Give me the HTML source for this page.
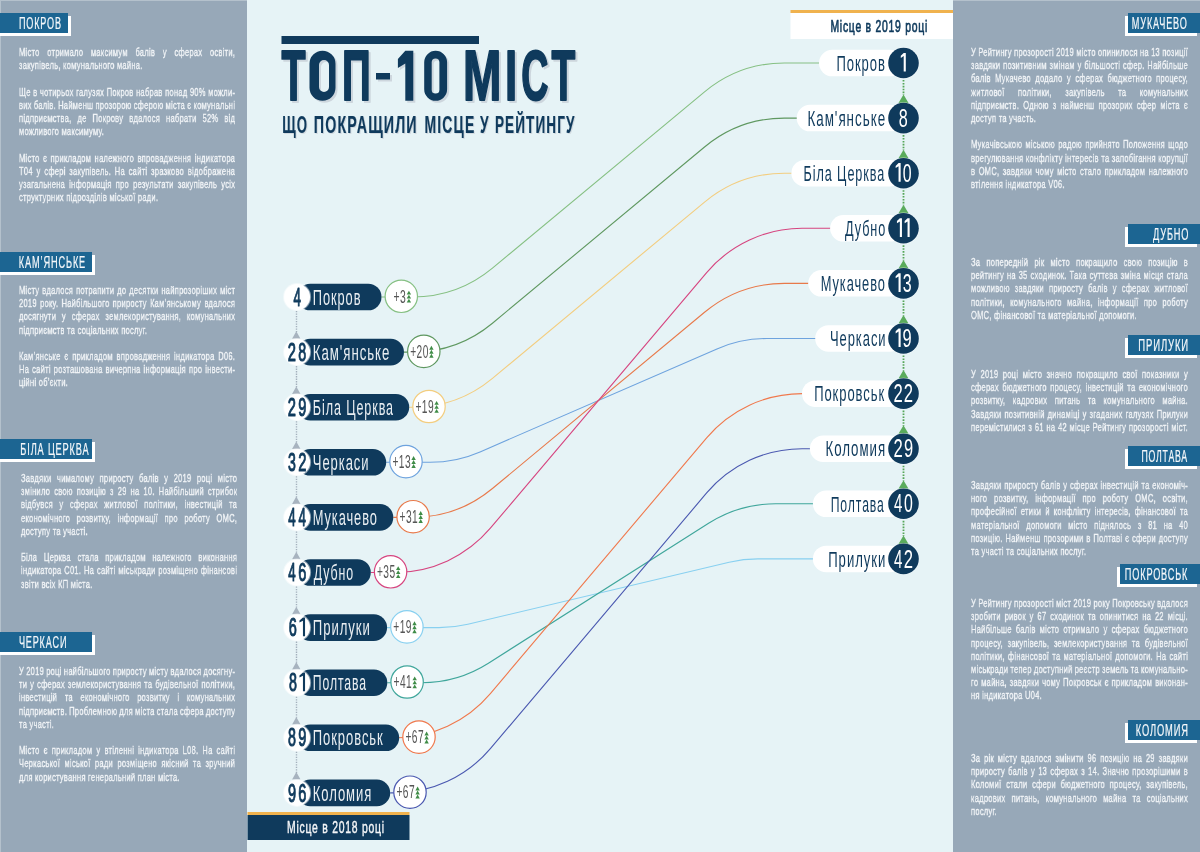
<!DOCTYPE html><html><head><meta charset="utf-8"><style>
*{margin:0;padding:0;box-sizing:border-box}
html,body{width:1200px;height:852px;overflow:hidden;background:#e6f3f6;font-family:"Liberation Sans", sans-serif}
.side{position:absolute;top:0;height:852px;background:#97a8b8}
.hbox{position:absolute;height:20px;background:#1c6592}
.hsh{position:absolute;height:20px;background:#ffffff}
.htxt{position:absolute;color:#f2f6fa;font-size:16.5px;line-height:16.5px;white-space:nowrap;transform-origin:0 0}
.body{position:absolute;color:#f1f4f7;font-size:11.6px;line-height:13.2px;font-weight:normal;transform:scaleX(0.645);transform-origin:0 0}
.ln{white-space:nowrap;height:13.2px}
.abs{position:absolute;white-space:nowrap;transform-origin:0 0}
</style></head><body>
<div class="side" style="left:0;width:247px"></div>
<div class="side" style="left:953px;width:247px"></div>
<div style="position:absolute;left:0;top:0;width:247px;height:1px;background:#b4c1cc"></div>
<div style="position:absolute;left:953px;top:0;width:247px;height:1px;background:#b4c1cc"></div>
<div style="position:absolute;left:0;top:0;width:1px;height:852px;background:#b4c1cc"></div>
<div class="hsh" style="left:0px;top:15.9px;width:71px"></div>
<div class="hbox" style="left:0;top:12.9px;width:68px"></div>
<div class="body" style="left:19.30px;top:45.28px;width:335.19px;font-weight:normal;letter-spacing:0.45px;transform:scaleX(0.645);will-change:transform;-webkit-text-stroke:0.4px #f1f4f7">
<div class="ln" style="word-spacing:8.184px">Місто отримало максимум балів у сферах освіти,</div>
<div class="ln">закупівель, комунального майна.</div>
<div class="ln">&nbsp;</div>
<div class="ln" style="word-spacing:0.176px">Ще в чотирьох галузях Покров набрав понад 90% можли-</div>
<div class="ln" style="word-spacing:-0.330px">вих балів. Найменш прозорою сферою міста є комунальні</div>
<div class="ln" style="word-spacing:5.635px">підприємства, де Покрову вдалося набрати 52% від</div>
<div class="ln">можливого максимуму.</div>
<div class="ln">&nbsp;</div>
<div class="ln" style="word-spacing:1.736px">Місто є прикладом належного впровадження індикатора</div>
<div class="ln" style="word-spacing:2.141px">Т04 у сфері закупівель. На сайті зразково відображена</div>
<div class="ln" style="word-spacing:2.695px">узагальнена інформація про результати закупівель усіх</div>
<div class="ln">структурних підрозділів міської ради.</div>
</div>
<div class="hsh" style="left:0px;top:254.5px;width:95px"></div>
<div class="hbox" style="left:0;top:251.5px;width:92px"></div>
<div class="body" style="left:19.30px;top:283.48px;width:335.19px;font-weight:normal;letter-spacing:0.45px;transform:scaleX(0.645);will-change:transform;-webkit-text-stroke:0.4px #f1f4f7">
<div class="ln" style="word-spacing:0.876px">Місту вдалося потрапити до десятки найпрозоріших міст</div>
<div class="ln" style="word-spacing:1.369px">2019 року. Найбільшого приросту Кам’янському вдалося</div>
<div class="ln" style="word-spacing:5.349px">досягнути у сферах землекористування, комунальних</div>
<div class="ln">підприємств та соціальних послуг.</div>
<div class="ln">&nbsp;</div>
<div class="ln" style="word-spacing:2.178px">Кам’янське є прикладом впровадження індикатора D06.</div>
<div class="ln" style="word-spacing:0.951px">На сайті розташована вичерпна інформація про інвести-</div>
<div class="ln">ційні об’єкти.</div>
</div>
<div class="hsh" style="left:0px;top:442px;width:94.5px"></div>
<div class="hbox" style="left:0;top:439px;width:91.5px"></div>
<div class="body" style="left:20.80px;top:470.98px;width:335.19px;font-weight:normal;letter-spacing:0.45px;transform:scaleX(0.645);will-change:transform;-webkit-text-stroke:0.4px #f1f4f7">
<div class="ln" style="word-spacing:4.746px">Завдяки чималому приросту балів у 2019 році місто</div>
<div class="ln" style="word-spacing:2.523px">змінило свою позицію з 29 на 10. Найбільший стрибок</div>
<div class="ln" style="word-spacing:6.376px">відбувся у сферах житлової політики, інвестицій та</div>
<div class="ln" style="word-spacing:6.493px">економічного розвитку, інформації про роботу ОМС,</div>
<div class="ln">доступу та участі.</div>
<div class="ln">&nbsp;</div>
<div class="ln" style="word-spacing:6.580px">Біла Церква стала прикладом належного виконання</div>
<div class="ln" style="word-spacing:0.664px">індикатора С01. На сайті міськради розміщено фінансові</div>
<div class="ln">звіти всіх КП міста.</div>
</div>
<div class="hsh" style="left:0px;top:634.8px;width:94.5px"></div>
<div class="hbox" style="left:0;top:631.8px;width:91.5px"></div>
<div class="body" style="left:19.30px;top:663.98px;width:335.19px;font-weight:normal;letter-spacing:0.45px;transform:scaleX(0.645);will-change:transform;-webkit-text-stroke:0.4px #f1f4f7">
<div class="ln" style="word-spacing:-0.263px">У 2019 році найбільшого приросту місту вдалося досягну-</div>
<div class="ln" style="word-spacing:0.903px">ти у сферах землекористування та будівельної політики,</div>
<div class="ln" style="word-spacing:8.078px">інвестицій та економічного розвитку і комунальних</div>
<div class="ln" style="word-spacing:-0.445px">підприємств. Проблемною для міста стала сфера доступу</div>
<div class="ln">та участі.</div>
<div class="ln">&nbsp;</div>
<div class="ln" style="word-spacing:2.596px">Місто є прикладом у втіленні індикатора L08. На сайті</div>
<div class="ln" style="word-spacing:3.184px">Черкаської міської ради розміщено якісний та зручний</div>
<div class="ln">для користування генеральний план міста.</div>
</div>
<div class="hsh" style="left:1125px;top:16px;width:72px"></div>
<div class="hbox" style="left:1128px;top:13px;width:72px"></div>
<div class="body" style="left:971.00px;top:45.48px;width:336.43px;font-weight:normal;letter-spacing:0.45px;transform:scaleX(0.645);will-change:transform;-webkit-text-stroke:0.4px #f1f4f7">
<div class="ln" style="word-spacing:-0.169px">У Рейтингу прозорості 2019 місто опинилося на 13 позиції</div>
<div class="ln" style="word-spacing:0.540px">завдяки позитивним змінам у більшості сфер. Найбільше</div>
<div class="ln" style="word-spacing:3.066px">балів Мукачево додало у сферах бюджетного процесу,</div>
<div class="ln" style="word-spacing:17.258px">житлової політики, закупівель та комунальних</div>
<div class="ln" style="word-spacing:2.691px">підприємств. Одною з найменш прозорих сфер міста є</div>
<div class="ln">доступ та участь.</div>
<div class="ln">&nbsp;</div>
<div class="ln" style="word-spacing:1.307px">Мукачівською міською радою прийнято Положення щодо</div>
<div class="ln" style="word-spacing:0.163px">врегулювання конфлікту інтересів та запобігання корупції</div>
<div class="ln" style="word-spacing:1.605px">в ОМС, завдяки чому місто стало прикладом належного</div>
<div class="ln">втілення індикатора V06.</div>
</div>
<div class="hsh" style="left:1125px;top:226.5px;width:72px"></div>
<div class="hbox" style="left:1128px;top:223.5px;width:72px"></div>
<div class="body" style="left:971.00px;top:255.48px;width:336.43px;font-weight:normal;letter-spacing:0.45px;transform:scaleX(0.645);will-change:transform;-webkit-text-stroke:0.4px #f1f4f7">
<div class="ln" style="word-spacing:5.854px">За попередній рік місто покращило свою позицію в</div>
<div class="ln" style="word-spacing:0.817px">рейтингу на 35 сходинок. Така суттєва зміна місця стала</div>
<div class="ln" style="word-spacing:4.027px">можливою завдяки приросту балів у сферах житлової</div>
<div class="ln" style="word-spacing:4.632px">політики, комунального майна, інформації про роботу</div>
<div class="ln">ОМС, фінансової та матеріальної допомоги.</div>
</div>
<div class="hsh" style="left:1125px;top:338px;width:72px"></div>
<div class="hbox" style="left:1128px;top:335px;width:72px"></div>
<div class="body" style="left:971.00px;top:367.48px;width:336.43px;font-weight:normal;letter-spacing:0.45px;transform:scaleX(0.645);will-change:transform;-webkit-text-stroke:0.4px #f1f4f7">
<div class="ln" style="word-spacing:3.277px">У 2019 році місто значно покращило свої показники у</div>
<div class="ln" style="word-spacing:1.761px">сферах бюджетного процесу, інвестицій та економічного</div>
<div class="ln" style="word-spacing:7.976px">розвитку, кадрових питань та комунального майна.</div>
<div class="ln" style="word-spacing:0.988px">Завдяки позитивній динаміці у згаданих галузях Прилуки</div>
<div class="ln" style="word-spacing:0.492px">перемістилися з 61 на 42 місце Рейтингу прозорості міст.</div>
</div>
<div class="hsh" style="left:1125px;top:449.2px;width:72px"></div>
<div class="hbox" style="left:1128px;top:446.2px;width:72px"></div>
<div class="body" style="left:971.00px;top:477.98px;width:336.43px;font-weight:normal;letter-spacing:0.45px;transform:scaleX(0.645);will-change:transform;-webkit-text-stroke:0.4px #f1f4f7">
<div class="ln" style="word-spacing:0.512px">Завдяки приросту балів у сферах інвестицій та економіч-</div>
<div class="ln" style="word-spacing:7.006px">ного розвитку, інформації про роботу ОМС, освіти,</div>
<div class="ln" style="word-spacing:2.569px">професійної етики й конфлікту інтересів, фінансової та</div>
<div class="ln" style="word-spacing:6.525px">матеріальної допомоги місто піднялось з 81 на 40</div>
<div class="ln" style="word-spacing:0.677px">позицію. Найменш прозорими в Полтаві є сфери доступу</div>
<div class="ln">та участі та соціальних послуг.</div>
</div>
<div class="hsh" style="left:1117px;top:567.2px;width:80px"></div>
<div class="hbox" style="left:1120px;top:564.2px;width:80px"></div>
<div class="body" style="left:971.00px;top:595.98px;width:336.43px;font-weight:normal;letter-spacing:0.45px;transform:scaleX(0.645);will-change:transform;-webkit-text-stroke:0.4px #f1f4f7">
<div class="ln" style="word-spacing:-0.209px">У Рейтингу прозорості міст 2019 року Покровську вдалося</div>
<div class="ln" style="word-spacing:2.266px">зробити ривок у 67 сходинок та опинитися на 22 місці.</div>
<div class="ln" style="word-spacing:2.757px">Найбільше балів місто отримало у сферах бюджетного</div>
<div class="ln" style="word-spacing:3.615px">процесу, закупівель, землекористування та будівельної</div>
<div class="ln" style="word-spacing:1.179px">політики, фінансової та матеріальної допомоги. На сайті</div>
<div class="ln" style="word-spacing:-0.308px">міськради тепер доступний реєстр земель та комунально-</div>
<div class="ln" style="word-spacing:0.868px">го майна, завдяки чому Покровськ є прикладом виконан-</div>
<div class="ln">ня індикатора U04.</div>
</div>
<div class="hsh" style="left:1125px;top:723px;width:72px"></div>
<div class="hbox" style="left:1128px;top:720px;width:72px"></div>
<div class="body" style="left:971.00px;top:750.98px;width:336.43px;font-weight:normal;letter-spacing:0.45px;transform:scaleX(0.645);will-change:transform;-webkit-text-stroke:0.4px #f1f4f7">
<div class="ln" style="word-spacing:2.217px">За рік місту вдалося змінити 96 позицію на 29 завдяки</div>
<div class="ln" style="word-spacing:1.218px">приросту балів у 13 сферах з 14. Значно прозорішими в</div>
<div class="ln" style="word-spacing:3.656px">Коломиї стали сфери бюджетного процесу, закупівель,</div>
<div class="ln" style="word-spacing:5.799px">кадрових питань, комунального майна та соціальних</div>
<div class="ln">послуг.</div>
</div>
<svg style="position:absolute;left:0;top:0;will-change:transform" width="1200" height="852" font-family="Liberation Sans, sans-serif"><text transform="translate(18.96,28.90) scale(0.5508,1)" font-size="16.5" letter-spacing="1.5" fill="#f4f7fa" stroke="#f4f7fa" stroke-width="0.2" vector-effect="non-scaling-stroke" stroke-linejoin="round" >ПОКРОВ</text>
<text transform="translate(18.84,267.50) scale(0.5598,1)" font-size="16.5" letter-spacing="1.5" fill="#f4f7fa" stroke="#f4f7fa" stroke-width="0.2" vector-effect="non-scaling-stroke" stroke-linejoin="round" >КАМ’ЯНСЬКЕ</text>
<text transform="translate(20.34,455.00) scale(0.5590,1)" font-size="16.5" letter-spacing="1.5" fill="#f4f7fa" stroke="#f4f7fa" stroke-width="0.2" vector-effect="non-scaling-stroke" stroke-linejoin="round" >БІЛА ЦЕРКВА</text>
<text transform="translate(18.89,647.80) scale(0.5528,1)" font-size="16.5" letter-spacing="1.5" fill="#f4f7fa" stroke="#f4f7fa" stroke-width="0.2" vector-effect="non-scaling-stroke" stroke-linejoin="round" >ЧЕРКАСИ</text>
<text transform="translate(1131.85,29.00) scale(0.5533,1)" font-size="16.5" letter-spacing="1.5" fill="#f4f7fa" stroke="#f4f7fa" stroke-width="0.2" vector-effect="non-scaling-stroke" stroke-linejoin="round" >МУКАЧЕВО</text>
<text transform="translate(1153.03,239.50) scale(0.5584,1)" font-size="16.5" letter-spacing="1.5" fill="#f4f7fa" stroke="#f4f7fa" stroke-width="0.2" vector-effect="non-scaling-stroke" stroke-linejoin="round" >ДУБНО</text>
<text transform="translate(1138.33,351.00) scale(0.5763,1)" font-size="16.5" letter-spacing="1.5" fill="#f4f7fa" stroke="#f4f7fa" stroke-width="0.2" vector-effect="non-scaling-stroke" stroke-linejoin="round" >ПРИЛУКИ</text>
<text transform="translate(1141.39,462.20) scale(0.5310,1)" font-size="16.5" letter-spacing="1.5" fill="#f4f7fa" stroke="#f4f7fa" stroke-width="0.2" vector-effect="non-scaling-stroke" stroke-linejoin="round" >ПОЛТАВА</text>
<text transform="translate(1124.86,580.20) scale(0.5559,1)" font-size="16.5" letter-spacing="1.5" fill="#f4f7fa" stroke="#f4f7fa" stroke-width="0.2" vector-effect="non-scaling-stroke" stroke-linejoin="round" >ПОКРОВСЬК</text>
<text transform="translate(1135.84,736.00) scale(0.5649,1)" font-size="16.5" letter-spacing="1.5" fill="#f4f7fa" stroke="#f4f7fa" stroke-width="0.2" vector-effect="non-scaling-stroke" stroke-linejoin="round" >КОЛОМИЯ</text>
<rect x="281.5" y="36" width="197.5" height="8" fill="#0f3a5c"/>
<text transform="translate(283.56,102.30) scale(0.5645,1)" font-size="69.792" font-weight="bold" fill="#cdd6dd" stroke="#cdd6dd" stroke-width="1.6" vector-effect="non-scaling-stroke" stroke-linejoin="round" >Т</text>
<text transform="translate(344.12,102.30) scale(0.5732,1)" font-size="69.792" font-weight="bold" fill="#cdd6dd" stroke="#cdd6dd" stroke-width="1.6" vector-effect="non-scaling-stroke" stroke-linejoin="round" >П</text>
<text transform="translate(465.12,102.30) scale(0.6598,1)" font-size="69.792" font-weight="bold" fill="#cdd6dd" stroke="#cdd6dd" stroke-width="1.6" vector-effect="non-scaling-stroke" stroke-linejoin="round" >М</text>
<text transform="translate(506.97,102.30) scale(0.6267,1)" font-size="69.792" font-weight="bold" fill="#cdd6dd" stroke="#cdd6dd" stroke-width="1.6" vector-effect="non-scaling-stroke" stroke-linejoin="round" >І</text>
<text transform="translate(523.36,102.30) scale(0.5391,1)" font-size="69.792" font-weight="bold" fill="#cdd6dd" stroke="#cdd6dd" stroke-width="1.6" vector-effect="non-scaling-stroke" stroke-linejoin="round" >С</text>
<text transform="translate(553.61,102.30) scale(0.5584,1)" font-size="69.792" font-weight="bold" fill="#cdd6dd" stroke="#cdd6dd" stroke-width="1.6" vector-effect="non-scaling-stroke" stroke-linejoin="round" >Т</text>
<g transform="translate(2.0,2.0)" fill="#cdd6dd">
<rect x="376" y="73" width="14" height="6.5"/>
<path fill-rule="evenodd" d="M309.5,63.8 A13.0,13.0 0 0 1 335.5,63.8 L335.5,87.8 A13.0,13.0 0 0 1 309.5,87.8 Z M319,65.0 A5.0,5.0 0 0 1 329,65.0 L329,87.0 A5.0,5.0 0 0 1 319,87.0 Z"/>
<path fill-rule="evenodd" d="M424.2,62.250000000000014 A11.450000000000017,11.450000000000017 0 0 1 447.1,62.250000000000014 L447.1,89.34999999999998 A11.450000000000017,11.450000000000017 0 0 1 424.2,89.34999999999998 Z M431.7,62.349999999999994 A3.8499999999999943,3.8499999999999943 0 0 1 439.4,62.349999999999994 L439.4,89.65 A3.8499999999999943,3.8499999999999943 0 0 1 431.7,89.65 Z"/>
<path d="M405.3,50.8 L413.3,50.8 L413.3,100.8 L405.3,100.8 L405.3,63.5 L397.9,68 L397.9,59 Z"/>
</g>
<text transform="translate(281.56,100.30) scale(0.5645,1)" font-size="69.792" font-weight="bold" fill="#0f3a5c" stroke="#0f3a5c" stroke-width="1.6" vector-effect="non-scaling-stroke" stroke-linejoin="round" >Т</text>
<text transform="translate(342.12,100.30) scale(0.5732,1)" font-size="69.792" font-weight="bold" fill="#0f3a5c" stroke="#0f3a5c" stroke-width="1.6" vector-effect="non-scaling-stroke" stroke-linejoin="round" >П</text>
<text transform="translate(463.12,100.30) scale(0.6598,1)" font-size="69.792" font-weight="bold" fill="#0f3a5c" stroke="#0f3a5c" stroke-width="1.6" vector-effect="non-scaling-stroke" stroke-linejoin="round" >М</text>
<text transform="translate(504.97,100.30) scale(0.6267,1)" font-size="69.792" font-weight="bold" fill="#0f3a5c" stroke="#0f3a5c" stroke-width="1.6" vector-effect="non-scaling-stroke" stroke-linejoin="round" >І</text>
<text transform="translate(521.36,100.30) scale(0.5391,1)" font-size="69.792" font-weight="bold" fill="#0f3a5c" stroke="#0f3a5c" stroke-width="1.6" vector-effect="non-scaling-stroke" stroke-linejoin="round" >С</text>
<text transform="translate(551.61,100.30) scale(0.5584,1)" font-size="69.792" font-weight="bold" fill="#0f3a5c" stroke="#0f3a5c" stroke-width="1.6" vector-effect="non-scaling-stroke" stroke-linejoin="round" >Т</text>
<g transform="translate(0,0)" fill="#0f3a5c">
<rect x="376" y="73" width="14" height="6.5"/>
<path fill-rule="evenodd" d="M309.5,63.8 A13.0,13.0 0 0 1 335.5,63.8 L335.5,87.8 A13.0,13.0 0 0 1 309.5,87.8 Z M319,65.0 A5.0,5.0 0 0 1 329,65.0 L329,87.0 A5.0,5.0 0 0 1 319,87.0 Z"/>
<path fill-rule="evenodd" d="M424.2,62.250000000000014 A11.450000000000017,11.450000000000017 0 0 1 447.1,62.250000000000014 L447.1,89.34999999999998 A11.450000000000017,11.450000000000017 0 0 1 424.2,89.34999999999998 Z M431.7,62.349999999999994 A3.8499999999999943,3.8499999999999943 0 0 1 439.4,62.349999999999994 L439.4,89.65 A3.8499999999999943,3.8499999999999943 0 0 1 431.7,89.65 Z"/>
<path d="M405.3,50.8 L413.3,50.8 L413.3,100.8 L405.3,100.8 L405.3,63.5 L397.9,68 L397.9,59 Z"/>
</g>
<text transform="translate(283.19,134.00) scale(0.5478,1)" font-size="24.065088757396452" font-weight="bold" letter-spacing="2.0" fill="#d2dae0" stroke="#d2dae0" stroke-width="0.15" vector-effect="non-scaling-stroke" stroke-linejoin="round" >ЩО</text>
<text transform="translate(314.82,134.00) scale(0.5907,1)" font-size="24.065088757396452" font-weight="bold" letter-spacing="2.0" fill="#d2dae0" stroke="#d2dae0" stroke-width="0.15" vector-effect="non-scaling-stroke" stroke-linejoin="round" >ПОКРАЩИЛИ</text>
<text transform="translate(425.54,134.00) scale(0.5800,1)" font-size="24.065088757396452" font-weight="bold" letter-spacing="2.0" fill="#d2dae0" stroke="#d2dae0" stroke-width="0.15" vector-effect="non-scaling-stroke" stroke-linejoin="round" >МІСЦЕ</text>
<text transform="translate(481.07,134.00) scale(0.5698,1)" font-size="24.065088757396452" font-weight="bold" letter-spacing="2.0" fill="#d2dae0" stroke="#d2dae0" stroke-width="0.15" vector-effect="non-scaling-stroke" stroke-linejoin="round" >У</text>
<text transform="translate(495.97,134.00) scale(0.5625,1)" font-size="24.065088757396452" font-weight="bold" letter-spacing="2.0" fill="#d2dae0" stroke="#d2dae0" stroke-width="0.15" vector-effect="non-scaling-stroke" stroke-linejoin="round" >РЕЙТИНГУ</text>
<text transform="translate(282.19,133.00) scale(0.5478,1)" font-size="24.065088757396452" font-weight="bold" letter-spacing="2.0" fill="#0f3a5c" stroke="#0f3a5c" stroke-width="0.15" vector-effect="non-scaling-stroke" stroke-linejoin="round" >ЩО</text>
<text transform="translate(313.82,133.00) scale(0.5907,1)" font-size="24.065088757396452" font-weight="bold" letter-spacing="2.0" fill="#0f3a5c" stroke="#0f3a5c" stroke-width="0.15" vector-effect="non-scaling-stroke" stroke-linejoin="round" >ПОКРАЩИЛИ</text>
<text transform="translate(424.54,133.00) scale(0.5800,1)" font-size="24.065088757396452" font-weight="bold" letter-spacing="2.0" fill="#0f3a5c" stroke="#0f3a5c" stroke-width="0.15" vector-effect="non-scaling-stroke" stroke-linejoin="round" >МІСЦЕ</text>
<text transform="translate(480.07,133.00) scale(0.5698,1)" font-size="24.065088757396452" font-weight="bold" letter-spacing="2.0" fill="#0f3a5c" stroke="#0f3a5c" stroke-width="0.15" vector-effect="non-scaling-stroke" stroke-linejoin="round" >У</text>
<text transform="translate(494.97,133.00) scale(0.5625,1)" font-size="24.065088757396452" font-weight="bold" letter-spacing="2.0" fill="#0f3a5c" stroke="#0f3a5c" stroke-width="0.15" vector-effect="non-scaling-stroke" stroke-linejoin="round" >РЕЙТИНГУ</text>
<rect x="790.5" y="10" width="162.5" height="3" fill="#f0b24e"/>
<rect x="790.5" y="13" width="162.5" height="26" fill="#ffffff"/>
<text transform="translate(830.45,31.80) scale(0.6255,1)" font-size="16.6" letter-spacing="1.2" fill="#0f3a5c" stroke="#0f3a5c" stroke-width="0.6" vector-effect="non-scaling-stroke" stroke-linejoin="round" >Місце в 2019 році</text>
<rect x="247.5" y="812" width="162" height="3" fill="#f0b24e"/>
<rect x="247.5" y="815" width="162" height="25" fill="#0f3a5c"/>
<text transform="translate(287.02,833.20) scale(0.6271,1)" font-size="16.6" letter-spacing="1.2" fill="#f4f6f8" stroke="#f4f6f8" stroke-width="0.35" vector-effect="non-scaling-stroke" stroke-linejoin="round" >Місце в 2018 році</text>
<path d="M381.5,297.0 L412.56,297.00 A125,125 0 0 0 492.46,268.13 L704.54,91.87 A125,125 0 0 1 784.44,63.00 L825.0,63.0" fill="none" stroke="#86c083" stroke-width="1.1"/>
<path d="M404.0,352.1 L412.56,352.10 A125,125 0 0 0 492.46,323.23 L704.54,146.97 A125,125 0 0 1 784.44,118.10 L802.7,118.1" fill="none" stroke="#5f9860" stroke-width="1.1"/>
<path d="M409.2,407.2 L412.56,407.20 A125,125 0 0 0 492.46,378.33 L704.54,202.07 A125,125 0 0 1 784.44,173.20 L797.4,173.2" fill="none" stroke="#f3cd7f" stroke-width="1.1"/>
<path d="M386.2,462.3 L430.19,462.30 A125,125 0 0 0 480.05,451.92 L716.95,348.88 A125,125 0 0 1 766.81,338.50 L821.2,338.5" fill="none" stroke="#6ea3de" stroke-width="1.1"/>
<path d="M393.3,517.4 L412.56,517.40 A125,125 0 0 0 492.46,488.53 L704.54,312.27 A125,125 0 0 1 784.44,283.40 L814.2,283.4" fill="none" stroke="#e8794a" stroke-width="1.1"/>
<path d="M370.8,572.5 L394.93,572.50 A125,125 0 0 0 490.36,528.23 L706.64,272.57 A125,125 0 0 1 802.07,228.30 L836.1,228.3" fill="none" stroke="#d6447f" stroke-width="1.1"/>
<path d="M387.1,627.6 L439.01,627.60 A125,125 0 0 0 467.85,624.23 L729.15,562.27 A125,125 0 0 1 757.99,558.90 L818.9,558.9" fill="none" stroke="#88d0f0" stroke-width="1.1"/>
<path d="M387.3,682.7 L421.38,682.70 A125,125 0 0 0 488.42,663.20 L708.58,523.30 A125,125 0 0 1 775.62,503.80 L818.9,503.8" fill="none" stroke="#3fa69b" stroke-width="1.1"/>
<path d="M399.2,737.8 L394.93,737.80 A125,125 0 0 0 490.36,693.53 L706.64,437.87 A125,125 0 0 1 802.07,393.60 L808.0,393.6" fill="none" stroke="#f0784c" stroke-width="1.1"/>
<path d="M390.2,792.9 L394.93,792.90 A125,125 0 0 0 490.36,748.63 L706.64,492.97 A125,125 0 0 1 802.07,448.70 L815.9,448.7" fill="none" stroke="#4a58b0" stroke-width="1.1"/>
<rect x="819.0" y="49.8" width="84.0" height="26.5" rx="13.25" fill="#ffffff"/>
<circle cx="903.5" cy="63.0" r="15.8" fill="#ffffff" opacity="0.6"/>
<circle cx="903.5" cy="63.0" r="15.3" fill="#0f3a5c"/>
<path d="M903.70,52.90 L905.80,52.90 L905.80,71.60 L903.70,71.60 L903.70,56.10 L900.80,57.90 L900.80,55.80 Z" fill="#ffffff"/>
<text transform="translate(836.44,70.70) scale(0.5930,1)" font-size="22.0" letter-spacing="1.6" fill="#0f3a5c" >Покров</text>
<line x1="903.5" y1="80.0" x2="903.5" y2="95.1" stroke="#55a658" stroke-width="1.8" stroke-dasharray="1.6,1.3"/>
<path d="M903.5,94.6 L908.5,103.1 L898.5,103.1 Z" fill="#5aab5c"/>
<rect x="796.7" y="104.8" width="106.3" height="26.5" rx="13.25" fill="#ffffff"/>
<circle cx="903.5" cy="118.1" r="15.8" fill="#ffffff" opacity="0.6"/>
<circle cx="903.5" cy="118.1" r="15.3" fill="#0f3a5c"/>
<text transform="translate(898.80,126.70) scale(0.6089,1)" font-size="26.6" fill="#ffffff" >8</text>
<text transform="translate(807.40,125.80) scale(0.6102,1)" font-size="22.0" letter-spacing="1.6" fill="#0f3a5c" >Кам'янське</text>
<line x1="903.5" y1="135.1" x2="903.5" y2="150.2" stroke="#55a658" stroke-width="1.8" stroke-dasharray="1.6,1.3"/>
<path d="M903.5,149.7 L908.5,158.2 L898.5,158.2 Z" fill="#5aab5c"/>
<rect x="791.4" y="159.9" width="111.6" height="26.5" rx="13.25" fill="#ffffff"/>
<circle cx="903.5" cy="173.2" r="15.8" fill="#ffffff" opacity="0.6"/>
<circle cx="903.5" cy="173.2" r="15.3" fill="#0f3a5c"/>
<path d="M898.55,163.10 L900.65,163.10 L900.65,181.80 L898.55,181.80 L898.55,166.30 L895.65,168.10 L895.65,166.00 Z" fill="#ffffff"/>
<text transform="translate(902.73,181.80) scale(0.5977,1)" font-size="26.6" fill="#ffffff" >0</text>
<text transform="translate(803.56,180.90) scale(0.5741,1)" font-size="22.0" letter-spacing="1.6" fill="#0f3a5c" >Біла Церква</text>
<line x1="903.5" y1="190.2" x2="903.5" y2="205.3" stroke="#55a658" stroke-width="1.8" stroke-dasharray="1.6,1.3"/>
<path d="M903.5,204.8 L908.5,213.3 L898.5,213.3 Z" fill="#5aab5c"/>
<rect x="830.1" y="215.1" width="72.9" height="26.5" rx="13.25" fill="#ffffff"/>
<circle cx="903.5" cy="228.3" r="15.8" fill="#ffffff" opacity="0.6"/>
<circle cx="903.5" cy="228.3" r="15.3" fill="#0f3a5c"/>
<path d="M899.85,218.20 L901.95,218.20 L901.95,236.90 L899.85,236.90 L899.85,221.40 L896.95,223.20 L896.95,221.10 Z" fill="#ffffff"/>
<path d="M907.55,218.20 L909.65,218.20 L909.65,236.90 L907.55,236.90 L907.55,221.40 L904.65,223.20 L904.65,221.10 Z" fill="#ffffff"/>
<text transform="translate(845.01,236.00) scale(0.5762,1)" font-size="22.0" letter-spacing="1.6" fill="#0f3a5c" >Дубно</text>
<line x1="903.5" y1="245.3" x2="903.5" y2="260.4" stroke="#55a658" stroke-width="1.8" stroke-dasharray="1.6,1.3"/>
<path d="M903.5,259.9 L908.5,268.4 L898.5,268.4 Z" fill="#5aab5c"/>
<rect x="808.2" y="270.1" width="94.8" height="26.5" rx="13.25" fill="#ffffff"/>
<circle cx="903.5" cy="283.4" r="15.8" fill="#ffffff" opacity="0.6"/>
<circle cx="903.5" cy="283.4" r="15.3" fill="#0f3a5c"/>
<path d="M898.55,273.30 L900.65,273.30 L900.65,292.00 L898.55,292.00 L898.55,276.50 L895.65,278.30 L895.65,276.20 Z" fill="#ffffff"/>
<text transform="translate(902.74,292.00) scale(0.6026,1)" font-size="26.6" fill="#ffffff" >3</text>
<text transform="translate(820.65,291.10) scale(0.5845,1)" font-size="22.0" letter-spacing="1.6" fill="#0f3a5c" >Мукачево</text>
<line x1="903.5" y1="300.4" x2="903.5" y2="315.5" stroke="#55a658" stroke-width="1.8" stroke-dasharray="1.6,1.3"/>
<path d="M903.5,315.0 L908.5,323.5 L898.5,323.5 Z" fill="#5aab5c"/>
<rect x="815.2" y="325.2" width="87.8" height="26.5" rx="13.25" fill="#ffffff"/>
<circle cx="903.5" cy="338.5" r="15.8" fill="#ffffff" opacity="0.6"/>
<circle cx="903.5" cy="338.5" r="15.3" fill="#0f3a5c"/>
<path d="M898.55,328.40 L900.65,328.40 L900.65,347.10 L898.55,347.10 L898.55,331.60 L895.65,333.40 L895.65,331.30 Z" fill="#ffffff"/>
<text transform="translate(902.58,347.10) scale(0.6185,1)" font-size="26.6" fill="#ffffff" >9</text>
<text transform="translate(829.99,346.20) scale(0.5891,1)" font-size="22.0" letter-spacing="1.6" fill="#0f3a5c" >Черкаси</text>
<line x1="903.5" y1="355.5" x2="903.5" y2="370.6" stroke="#55a658" stroke-width="1.8" stroke-dasharray="1.6,1.3"/>
<path d="M903.5,370.1 L908.5,378.6 L898.5,378.6 Z" fill="#5aab5c"/>
<rect x="802.0" y="380.4" width="101.0" height="26.5" rx="13.25" fill="#ffffff"/>
<circle cx="903.5" cy="393.6" r="15.8" fill="#ffffff" opacity="0.6"/>
<circle cx="903.5" cy="393.6" r="15.3" fill="#0f3a5c"/>
<text transform="translate(893.51,402.20) scale(0.6272,1)" font-size="26.6" fill="#ffffff" >2</text>
<text transform="translate(903.81,402.20) scale(0.6272,1)" font-size="26.6" fill="#ffffff" >2</text>
<text transform="translate(814.15,401.30) scale(0.5912,1)" font-size="22.0" letter-spacing="1.6" fill="#0f3a5c" >Покровськ</text>
<line x1="903.5" y1="410.6" x2="903.5" y2="425.7" stroke="#55a658" stroke-width="1.8" stroke-dasharray="1.6,1.3"/>
<path d="M903.5,425.2 L908.5,433.7 L898.5,433.7 Z" fill="#5aab5c"/>
<rect x="809.9" y="435.4" width="93.1" height="26.5" rx="13.25" fill="#ffffff"/>
<circle cx="903.5" cy="448.7" r="15.8" fill="#ffffff" opacity="0.6"/>
<circle cx="903.5" cy="448.7" r="15.3" fill="#0f3a5c"/>
<text transform="translate(893.51,457.30) scale(0.6272,1)" font-size="26.6" fill="#ffffff" >2</text>
<text transform="translate(903.88,457.30) scale(0.6185,1)" font-size="26.6" fill="#ffffff" >9</text>
<text transform="translate(825.51,456.40) scale(0.6038,1)" font-size="22.0" letter-spacing="1.6" fill="#0f3a5c" >Коломия</text>
<line x1="903.5" y1="465.7" x2="903.5" y2="480.8" stroke="#55a658" stroke-width="1.8" stroke-dasharray="1.6,1.3"/>
<path d="M903.5,480.3 L908.5,488.8 L898.5,488.8 Z" fill="#5aab5c"/>
<rect x="812.9" y="490.6" width="90.1" height="26.5" rx="13.25" fill="#ffffff"/>
<circle cx="903.5" cy="503.8" r="15.8" fill="#ffffff" opacity="0.6"/>
<circle cx="903.5" cy="503.8" r="15.3" fill="#0f3a5c"/>
<text transform="translate(894.00,512.40) scale(0.5670,1)" font-size="26.6" fill="#ffffff" >4</text>
<text transform="translate(904.03,512.40) scale(0.5977,1)" font-size="26.6" fill="#ffffff" >0</text>
<text transform="translate(830.71,511.50) scale(0.5551,1)" font-size="22.0" letter-spacing="1.6" fill="#0f3a5c" >Полтава</text>
<line x1="903.5" y1="520.8" x2="903.5" y2="535.9" stroke="#55a658" stroke-width="1.8" stroke-dasharray="1.6,1.3"/>
<path d="M903.5,535.4 L908.5,543.9 L898.5,543.9 Z" fill="#5aab5c"/>
<rect x="812.9" y="545.7" width="90.1" height="26.5" rx="13.25" fill="#ffffff"/>
<circle cx="903.5" cy="558.9" r="15.8" fill="#ffffff" opacity="0.6"/>
<circle cx="903.5" cy="558.9" r="15.3" fill="#0f3a5c"/>
<text transform="translate(894.00,567.50) scale(0.5670,1)" font-size="26.6" fill="#ffffff" >4</text>
<text transform="translate(903.81,567.50) scale(0.6272,1)" font-size="26.6" fill="#ffffff" >2</text>
<text transform="translate(828.24,566.60) scale(0.5965,1)" font-size="22.0" letter-spacing="1.6" fill="#0f3a5c" >Прилуки</text>
<rect x="297" y="283.7" width="84.5" height="26.6" rx="13.3" fill="#0f3a5c"/>
<circle cx="297.1" cy="297.0" r="14" fill="#ffffff" opacity="0.5"/>
<circle cx="297.1" cy="297.0" r="13" fill="#ffffff"/>
<text transform="translate(293.44,305.60) scale(0.4999,1)" font-size="26.6" fill="#0f3a5c" stroke="#0f3a5c" stroke-width="0.9" vector-effect="non-scaling-stroke" stroke-linejoin="round" >4</text>
<text transform="translate(312.76,304.60) scale(0.5841,1)" font-size="22.0" letter-spacing="1.6" fill="#e9eef2" >Покров</text>
<circle cx="401.3" cy="296.3" r="16.2" fill="#ffffff" stroke="#86c083" stroke-width="1.2"/>
<text transform="translate(393.59,302.50) scale(0.5601,1)" font-size="18.5" letter-spacing="0.8" fill="#555555" >+3</text>
<path d="M408.90,290.70 L411.10,294.60 L406.70,294.60 Z" fill="#3f8c47"/>
<path d="M408.90,294.70 L411.10,298.60 L406.70,298.60 Z" fill="#3f8c47"/>
<path d="M408.90,298.70 L411.10,302.60 L406.70,302.60 Z" fill="#3f8c47"/>
<line x1="296.5" y1="311.0" x2="296.5" y2="332.1" stroke="#a3b0bc" stroke-width="1.4" stroke-dasharray="1.3,1.2"/>
<path d="M296.3,331.3 L300.5,338.8 L292.1,338.8 Z" fill="#a7b3bf"/>
<rect x="297" y="338.8" width="107.0" height="26.6" rx="13.3" fill="#0f3a5c"/>
<circle cx="297.1" cy="352.1" r="14" fill="#ffffff" opacity="0.5"/>
<circle cx="297.1" cy="352.1" r="13" fill="#ffffff"/>
<text transform="translate(287.86,360.70) scale(0.5529,1)" font-size="26.6" fill="#0f3a5c" stroke="#0f3a5c" stroke-width="0.9" vector-effect="non-scaling-stroke" stroke-linejoin="round" >2</text>
<text transform="translate(298.28,360.70) scale(0.5368,1)" font-size="26.6" fill="#0f3a5c" stroke="#0f3a5c" stroke-width="0.9" vector-effect="non-scaling-stroke" stroke-linejoin="round" >8</text>
<text transform="translate(312.71,359.70) scale(0.6022,1)" font-size="22.0" letter-spacing="1.6" fill="#e9eef2" >Кам'янське</text>
<circle cx="423.8" cy="351.4" r="16.2" fill="#ffffff" stroke="#5f9860" stroke-width="1.2"/>
<text transform="translate(410.20,357.60) scale(0.5486,1)" font-size="18.5" letter-spacing="0.8" fill="#555555" >+20</text>
<path d="M431.40,345.80 L433.60,349.70 L429.20,349.70 Z" fill="#3f8c47"/>
<path d="M431.40,349.80 L433.60,353.70 L429.20,353.70 Z" fill="#3f8c47"/>
<path d="M431.40,353.80 L433.60,357.70 L429.20,357.70 Z" fill="#3f8c47"/>
<line x1="296.5" y1="366.1" x2="296.5" y2="387.2" stroke="#a3b0bc" stroke-width="1.4" stroke-dasharray="1.3,1.2"/>
<path d="M296.3,386.4 L300.5,393.9 L292.1,393.9 Z" fill="#a7b3bf"/>
<rect x="297" y="393.9" width="112.2" height="26.6" rx="13.3" fill="#0f3a5c"/>
<circle cx="297.1" cy="407.2" r="14" fill="#ffffff" opacity="0.5"/>
<circle cx="297.1" cy="407.2" r="13" fill="#ffffff"/>
<text transform="translate(287.86,415.80) scale(0.5529,1)" font-size="26.6" fill="#0f3a5c" stroke="#0f3a5c" stroke-width="0.9" vector-effect="non-scaling-stroke" stroke-linejoin="round" >2</text>
<text transform="translate(298.22,415.80) scale(0.5453,1)" font-size="26.6" fill="#0f3a5c" stroke="#0f3a5c" stroke-width="0.9" vector-effect="non-scaling-stroke" stroke-linejoin="round" >9</text>
<text transform="translate(312.77,414.80) scale(0.5720,1)" font-size="22.0" letter-spacing="1.6" fill="#e9eef2" >Біла Церква</text>
<circle cx="429.0" cy="406.5" r="16.2" fill="#ffffff" stroke="#f3cd7f" stroke-width="1.2"/>
<text transform="translate(415.40,412.70) scale(0.5513,1)" font-size="18.5" letter-spacing="0.8" fill="#555555" >+19</text>
<path d="M436.60,400.90 L438.80,404.80 L434.40,404.80 Z" fill="#3f8c47"/>
<path d="M436.60,404.90 L438.80,408.80 L434.40,408.80 Z" fill="#3f8c47"/>
<path d="M436.60,408.90 L438.80,412.80 L434.40,412.80 Z" fill="#3f8c47"/>
<line x1="296.5" y1="421.2" x2="296.5" y2="442.3" stroke="#a3b0bc" stroke-width="1.4" stroke-dasharray="1.3,1.2"/>
<path d="M296.3,441.5 L300.5,449.0 L292.1,449.0 Z" fill="#a7b3bf"/>
<rect x="297" y="449.0" width="89.2" height="26.6" rx="13.3" fill="#0f3a5c"/>
<circle cx="297.1" cy="462.3" r="14" fill="#ffffff" opacity="0.5"/>
<circle cx="297.1" cy="462.3" r="13" fill="#ffffff"/>
<text transform="translate(288.06,470.90) scale(0.5313,1)" font-size="26.6" fill="#0f3a5c" stroke="#0f3a5c" stroke-width="0.9" vector-effect="non-scaling-stroke" stroke-linejoin="round" >3</text>
<text transform="translate(298.16,470.90) scale(0.5529,1)" font-size="26.6" fill="#0f3a5c" stroke="#0f3a5c" stroke-width="0.9" vector-effect="non-scaling-stroke" stroke-linejoin="round" >2</text>
<text transform="translate(312.78,469.90) scale(0.5914,1)" font-size="22.0" letter-spacing="1.6" fill="#e9eef2" >Черкаси</text>
<circle cx="406.0" cy="461.6" r="16.2" fill="#ffffff" stroke="#6ea3de" stroke-width="1.2"/>
<text transform="translate(392.40,467.80) scale(0.5501,1)" font-size="18.5" letter-spacing="0.8" fill="#555555" >+13</text>
<path d="M413.60,456.00 L415.80,459.90 L411.40,459.90 Z" fill="#3f8c47"/>
<path d="M413.60,460.00 L415.80,463.90 L411.40,463.90 Z" fill="#3f8c47"/>
<path d="M413.60,464.00 L415.80,467.90 L411.40,467.90 Z" fill="#3f8c47"/>
<line x1="296.5" y1="476.3" x2="296.5" y2="497.4" stroke="#a3b0bc" stroke-width="1.4" stroke-dasharray="1.3,1.2"/>
<path d="M296.3,496.6 L300.5,504.1 L292.1,504.1 Z" fill="#a7b3bf"/>
<rect x="297" y="504.1" width="96.3" height="26.6" rx="13.3" fill="#0f3a5c"/>
<circle cx="297.1" cy="517.4" r="14" fill="#ffffff" opacity="0.5"/>
<circle cx="297.1" cy="517.4" r="13" fill="#ffffff"/>
<text transform="translate(288.29,526.00) scale(0.4999,1)" font-size="26.6" fill="#0f3a5c" stroke="#0f3a5c" stroke-width="0.9" vector-effect="non-scaling-stroke" stroke-linejoin="round" >4</text>
<text transform="translate(298.59,526.00) scale(0.4999,1)" font-size="26.6" fill="#0f3a5c" stroke="#0f3a5c" stroke-width="0.9" vector-effect="non-scaling-stroke" stroke-linejoin="round" >4</text>
<text transform="translate(312.75,525.00) scale(0.5835,1)" font-size="22.0" letter-spacing="1.6" fill="#e9eef2" >Мукачево</text>
<circle cx="413.1" cy="516.7" r="16.2" fill="#ffffff" stroke="#e8794a" stroke-width="1.2"/>
<text transform="translate(399.50,522.90) scale(0.5517,1)" font-size="18.5" letter-spacing="0.8" fill="#555555" >+31</text>
<path d="M420.70,511.10 L422.90,515.00 L418.50,515.00 Z" fill="#3f8c47"/>
<path d="M420.70,515.10 L422.90,519.00 L418.50,519.00 Z" fill="#3f8c47"/>
<path d="M420.70,519.10 L422.90,523.00 L418.50,523.00 Z" fill="#3f8c47"/>
<line x1="296.5" y1="531.4" x2="296.5" y2="552.5" stroke="#a3b0bc" stroke-width="1.4" stroke-dasharray="1.3,1.2"/>
<path d="M296.3,551.7 L300.5,559.2 L292.1,559.2 Z" fill="#a7b3bf"/>
<rect x="297" y="559.2" width="73.8" height="26.6" rx="13.3" fill="#0f3a5c"/>
<circle cx="297.1" cy="572.5" r="14" fill="#ffffff" opacity="0.5"/>
<circle cx="297.1" cy="572.5" r="13" fill="#ffffff"/>
<text transform="translate(288.29,581.10) scale(0.4999,1)" font-size="26.6" fill="#0f3a5c" stroke="#0f3a5c" stroke-width="0.9" vector-effect="non-scaling-stroke" stroke-linejoin="round" >4</text>
<text transform="translate(298.16,581.10) scale(0.5459,1)" font-size="26.6" fill="#0f3a5c" stroke="#0f3a5c" stroke-width="0.9" vector-effect="non-scaling-stroke" stroke-linejoin="round" >6</text>
<text transform="translate(313.71,580.10) scale(0.5631,1)" font-size="22.0" letter-spacing="1.6" fill="#e9eef2" >Дубно</text>
<circle cx="390.6" cy="571.8" r="16.2" fill="#ffffff" stroke="#d6447f" stroke-width="1.2"/>
<text transform="translate(377.00,578.00) scale(0.5495,1)" font-size="18.5" letter-spacing="0.8" fill="#555555" >+35</text>
<path d="M398.20,566.20 L400.40,570.10 L396.00,570.10 Z" fill="#3f8c47"/>
<path d="M398.20,570.20 L400.40,574.10 L396.00,574.10 Z" fill="#3f8c47"/>
<path d="M398.20,574.20 L400.40,578.10 L396.00,578.10 Z" fill="#3f8c47"/>
<line x1="296.5" y1="586.5" x2="296.5" y2="607.6" stroke="#a3b0bc" stroke-width="1.4" stroke-dasharray="1.3,1.2"/>
<path d="M296.3,606.8 L300.5,614.3 L292.1,614.3 Z" fill="#a7b3bf"/>
<rect x="297" y="614.3" width="90.1" height="26.6" rx="13.3" fill="#0f3a5c"/>
<circle cx="297.1" cy="627.6" r="14" fill="#ffffff" opacity="0.5"/>
<circle cx="297.1" cy="627.6" r="13" fill="#ffffff"/>
<text transform="translate(288.86,636.20) scale(0.5459,1)" font-size="26.6" fill="#0f3a5c" stroke="#0f3a5c" stroke-width="0.9" vector-effect="non-scaling-stroke" stroke-linejoin="round" >6</text>
<path d="M302.95,617.50 L305.05,617.50 L305.05,636.20 L302.95,636.20 L302.95,620.70 L299.45,622.50 L299.45,620.40 Z" fill="#0f3a5c"/>
<text transform="translate(312.73,635.20) scale(0.5975,1)" font-size="22.0" letter-spacing="1.6" fill="#e9eef2" >Прилуки</text>
<circle cx="406.9" cy="626.9" r="16.2" fill="#ffffff" stroke="#88d0f0" stroke-width="1.2"/>
<text transform="translate(393.30,633.10) scale(0.5513,1)" font-size="18.5" letter-spacing="0.8" fill="#555555" >+19</text>
<path d="M414.50,621.30 L416.70,625.20 L412.30,625.20 Z" fill="#3f8c47"/>
<path d="M414.50,625.30 L416.70,629.20 L412.30,629.20 Z" fill="#3f8c47"/>
<path d="M414.50,629.30 L416.70,633.20 L412.30,633.20 Z" fill="#3f8c47"/>
<line x1="296.5" y1="641.6" x2="296.5" y2="662.7" stroke="#a3b0bc" stroke-width="1.4" stroke-dasharray="1.3,1.2"/>
<path d="M296.3,661.9 L300.5,669.4 L292.1,669.4 Z" fill="#a7b3bf"/>
<rect x="297" y="669.4" width="90.3" height="26.6" rx="13.3" fill="#0f3a5c"/>
<circle cx="297.1" cy="682.7" r="14" fill="#ffffff" opacity="0.5"/>
<circle cx="297.1" cy="682.7" r="13" fill="#ffffff"/>
<text transform="translate(288.98,691.30) scale(0.5368,1)" font-size="26.6" fill="#0f3a5c" stroke="#0f3a5c" stroke-width="0.9" vector-effect="non-scaling-stroke" stroke-linejoin="round" >8</text>
<path d="M302.95,672.60 L305.05,672.60 L305.05,691.30 L302.95,691.30 L302.95,675.80 L299.45,677.60 L299.45,675.50 Z" fill="#0f3a5c"/>
<text transform="translate(312.81,690.30) scale(0.5551,1)" font-size="22.0" letter-spacing="1.6" fill="#e9eef2" >Полтава</text>
<circle cx="407.1" cy="682.0" r="16.2" fill="#ffffff" stroke="#3fa69b" stroke-width="1.2"/>
<text transform="translate(393.50,688.20) scale(0.5517,1)" font-size="18.5" letter-spacing="0.8" fill="#555555" >+41</text>
<path d="M414.70,676.40 L416.90,680.30 L412.50,680.30 Z" fill="#3f8c47"/>
<path d="M414.70,680.40 L416.90,684.30 L412.50,684.30 Z" fill="#3f8c47"/>
<path d="M414.70,684.40 L416.90,688.30 L412.50,688.30 Z" fill="#3f8c47"/>
<line x1="296.5" y1="696.7" x2="296.5" y2="717.8" stroke="#a3b0bc" stroke-width="1.4" stroke-dasharray="1.3,1.2"/>
<path d="M296.3,717.0 L300.5,724.5 L292.1,724.5 Z" fill="#a7b3bf"/>
<rect x="297" y="724.5" width="102.2" height="26.6" rx="13.3" fill="#0f3a5c"/>
<circle cx="297.1" cy="737.8" r="14" fill="#ffffff" opacity="0.5"/>
<circle cx="297.1" cy="737.8" r="13" fill="#ffffff"/>
<text transform="translate(287.98,746.40) scale(0.5368,1)" font-size="26.6" fill="#0f3a5c" stroke="#0f3a5c" stroke-width="0.9" vector-effect="non-scaling-stroke" stroke-linejoin="round" >8</text>
<text transform="translate(298.22,746.40) scale(0.5453,1)" font-size="26.6" fill="#0f3a5c" stroke="#0f3a5c" stroke-width="0.9" vector-effect="non-scaling-stroke" stroke-linejoin="round" >9</text>
<text transform="translate(312.75,745.40) scale(0.5912,1)" font-size="22.0" letter-spacing="1.6" fill="#e9eef2" >Покровськ</text>
<circle cx="419.0" cy="737.1" r="16.2" fill="#ffffff" stroke="#f0784c" stroke-width="1.2"/>
<text transform="translate(405.40,743.30) scale(0.5522,1)" font-size="18.5" letter-spacing="0.8" fill="#555555" >+67</text>
<path d="M426.60,731.50 L428.80,735.40 L424.40,735.40 Z" fill="#3f8c47"/>
<path d="M426.60,735.50 L428.80,739.40 L424.40,739.40 Z" fill="#3f8c47"/>
<path d="M426.60,739.50 L428.80,743.40 L424.40,743.40 Z" fill="#3f8c47"/>
<line x1="296.5" y1="751.8" x2="296.5" y2="772.9" stroke="#a3b0bc" stroke-width="1.4" stroke-dasharray="1.3,1.2"/>
<path d="M296.3,772.1 L300.5,779.6 L292.1,779.6 Z" fill="#a7b3bf"/>
<rect x="297" y="779.6" width="93.2" height="26.6" rx="13.3" fill="#0f3a5c"/>
<circle cx="297.1" cy="792.9" r="14" fill="#ffffff" opacity="0.5"/>
<circle cx="297.1" cy="792.9" r="13" fill="#ffffff"/>
<text transform="translate(287.92,801.50) scale(0.5453,1)" font-size="26.6" fill="#0f3a5c" stroke="#0f3a5c" stroke-width="0.9" vector-effect="non-scaling-stroke" stroke-linejoin="round" >9</text>
<text transform="translate(298.16,801.50) scale(0.5459,1)" font-size="26.6" fill="#0f3a5c" stroke="#0f3a5c" stroke-width="0.9" vector-effect="non-scaling-stroke" stroke-linejoin="round" >6</text>
<text transform="translate(312.73,800.50) scale(0.5934,1)" font-size="22.0" letter-spacing="1.6" fill="#e9eef2" >Коломия</text>
<circle cx="410.0" cy="792.2" r="16.2" fill="#ffffff" stroke="#4a58b0" stroke-width="1.2"/>
<text transform="translate(396.40,798.40) scale(0.5522,1)" font-size="18.5" letter-spacing="0.8" fill="#555555" >+67</text>
<path d="M417.60,786.60 L419.80,790.50 L415.40,790.50 Z" fill="#3f8c47"/>
<path d="M417.60,790.60 L419.80,794.50 L415.40,794.50 Z" fill="#3f8c47"/>
<path d="M417.60,794.60 L419.80,798.50 L415.40,798.50 Z" fill="#3f8c47"/></svg>
</body></html>
